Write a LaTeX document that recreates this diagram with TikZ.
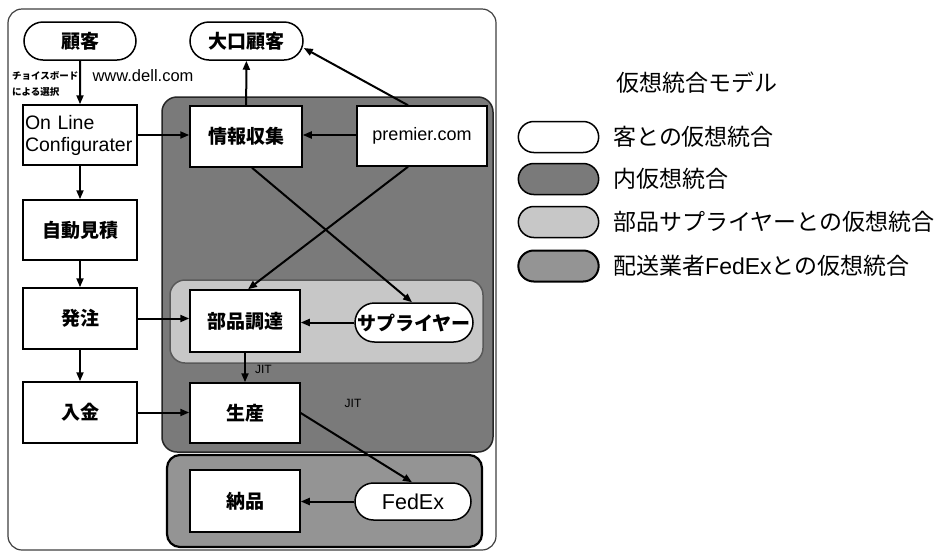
\documentclass[tikz,border=0pt]{standalone}
\usepackage{fontspec}
\setmainfont{Noto Sans CJK JP}
\newfontfamily\lat{Liberation Sans}
\usetikzlibrary{arrows.meta,shapes.misc}
\begin{document}
\begin{tikzpicture}[x=1pt,y=-1pt,
  boxn/.style={draw, line width=1.5pt, fill=white, minimum width=112pt, minimum height=61pt, inner sep=1pt, font=\fontsize{19}{21}\selectfont\bfseries},
  pill/.style={draw, line width=1.5pt, fill=white, rounded rectangle, minimum height=38pt, inner sep=2pt, font=\fontsize{19}{21}\selectfont\bfseries},
  arr/.style={line width=2pt, -{Triangle[length=9pt,width=7pt]}},
  region/.style={rounded corners=15pt, line width=1.5pt},
  legpill/.style={draw, line width=1.5pt, rounded rectangle, minimum width=87pt, minimum height=31pt},
  legtxt/.style={anchor=west, inner sep=0pt, font=\fontsize{23}{25}\selectfont},
  small/.style={inner sep=0pt, font=\fontsize{9.5}{11}\selectfont\bfseries},
  jit/.style={inner sep=0pt, font=\fontsize{12}{13}\selectfont\lat}
]
\useasboundingbox (0,0) rectangle (945,558);
\fill[white] (0,0) rectangle (945,558);

% regions
\draw[region, draw=black!75, line width=1.2pt, rounded corners=14pt] (8,9) rectangle (496,550);
\draw[region, fill=black!52, draw=black!85] (162,97) rectangle (493,452);
\draw[region, fill=black!22, draw=black!65] (170,280) rectangle (483,363);
\draw[region, fill=black!42, draw=black, line width=2.2pt, rounded corners=13pt] (167,455) rectangle (482,547);

% nodes
\node[pill, minimum width=116pt] (kokyaku) at (80,41) {顧客};
\node[pill, minimum width=117pt] (oguchi) at (246.5,41) {大口顧客};
\node[boxn, minimum width=114pt, minimum height=60pt, text width=110pt, align=left, inner sep=2pt, font=\fontsize{19.5}{22}\selectfont\lat] (olc) at (80,135) {On Line\\Configurater};
\node[boxn, minimum width=114pt, minimum height=60pt] (jido) at (80,230) {自動見積};
\node[boxn, minimum width=114pt] (hatchu) at (80,318.5) {発注};
\node[boxn, minimum width=114pt] (nyukin) at (80,412.5) {入金};
\node[boxn] (joho) at (246,136.5) {情報収集};
\node[boxn, minimum width=130pt, minimum height=60pt, font=\fontsize{18}{20}\selectfont\lat] (premier) at (422,136) {premier.com};
\node[boxn, minimum width=110pt, minimum height=62pt] (buhin) at (245,321) {部品調達};
\node[pill, minimum width=122pt, minimum height=39pt] (supplier) at (414,322.5) {サプライヤー};
\node[boxn, minimum width=110pt, minimum height=60pt] (seisan) at (245,413) {生産};
\node[boxn, minimum width=110pt, minimum height=62pt] (nohin) at (245,501) {納品};
\node[pill, minimum width=120pt, minimum height=37pt, font=\fontsize{21.5}{23}\selectfont\lat] (fedex) at (413,501.5) {FedEx};

% labels
\node[small, anchor=west] (choice1) at (12,76) {チョイスボード};
\node[small, anchor=west] (choice2) at (12,92) {による選択};
\node[inner sep=0pt, font=\fontsize{16.5}{18}\selectfont\lat] (dell) at (143,76) {www.dell.com};

% arrows
\draw[arr] (kokyaku) -- (olc);
\draw[arr] (olc) -- (jido);
\draw[arr] (jido) -- (hatchu);
\draw[arr] (hatchu) -- (nyukin);
\draw[arr] (olc.east) -- (olc.east -| joho.west);
\draw[arr] (premier.west |- olc.east) -- (joho.east |- olc.east);
\draw[arr] (joho) -- (oguchi);
\draw[arr] ([xshift=-14pt]premier.north) -- ([yshift=-7pt]oguchi.east);
\draw[arr] ([xshift=6pt]joho.south) -- ([xshift=-2pt]supplier.north);
\draw[arr] ([xshift=-14pt]premier.south) -- ([xshift=3pt]buhin.north);
\draw[arr] (hatchu.east) -- (hatchu.east -| buhin.west);
\draw[arr] (supplier.west) -- (supplier.west -| buhin.east);
\draw[arr] (buhin) -- node[jit, right, xshift=9pt, yshift=-2pt] (jit1) {JIT} (seisan);
\draw[arr] (nyukin.east) -- (nyukin.east -| seisan.west);
\draw[arr] (seisan.east) -- ([xshift=-1pt]fedex.north);
\node[jit] (jit2) at (353,403) {JIT};
\draw[arr] (fedex.west) -- (fedex.west -| nohin.east);

% legend
\node[inner sep=0pt, font=\fontsize{23}{25}\selectfont] (legtitle) at (697,83) {仮想統合モデル};
\node[legpill, fill=white] (lp1) at (558.5,137) {};
\node[legpill, fill=black!52] (lp2) at (558.5,179) {};
\node[legpill, fill=black!22] (lp3) at (558.5,222) {};
\node[legpill, fill=black!42, line width=2pt] (lp4) at (558.5,266) {};
\node[legtxt] (lt1) at (613,137) {客との仮想統合};
\node[legtxt] (lt2) at (613,179) {内仮想統合};
\node[legtxt] (lt3) at (613,222) {部品サプライヤーとの仮想統合};
\node[legtxt] (lt4) at (613,266) {配送業者{\lat FedEx}との仮想統合};
\end{tikzpicture}
\end{document}
